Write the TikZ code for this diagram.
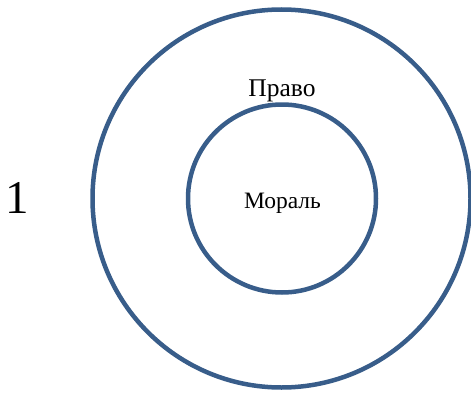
\documentclass[tikz,border=0pt]{standalone}
\usepackage{fontspec}
\setmainfont{Liberation Serif}
\definecolor{ringblue}{HTML}{385D8A}
\tikzset{ring/.style={draw=ringblue,line width=4.5pt},
  lbl/.style={anchor=base,inner sep=0pt}}
\begin{document}
\begin{tikzpicture}[x=1pt,y=1pt]
\useasboundingbox (0,0) rectangle (471,392);
\draw[ring] (281.5,193.5) circle (189);
\draw[ring] (282,193.5) circle (94);
\node[lbl,font=\fontsize{25.5}{28}\selectfont] (pravo) at (282,295.3) {Право};
\node[lbl,font=\fontsize{23.5}{26}\selectfont] (moral) at (282.5,183.7) {Мораль};
\node[lbl,font=\fontsize{47}{50}\selectfont] (one) at (17.5,179) {1};
\end{tikzpicture}
\end{document}
